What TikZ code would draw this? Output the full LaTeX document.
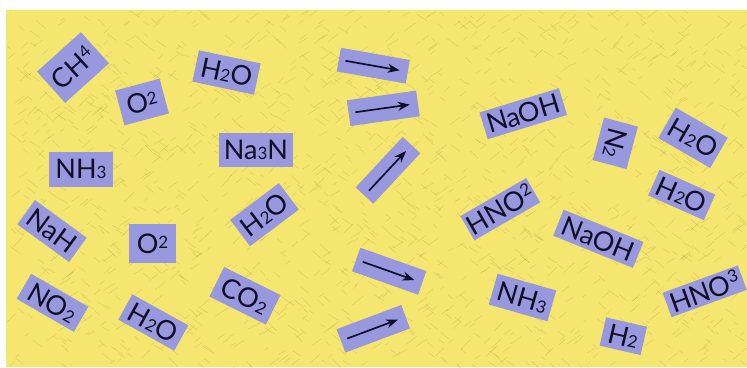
\documentclass[tikz,border=0pt]{standalone}
\usepackage{fontspec}
\setmainfont{Lato}
\usetikzlibrary{calc,arrows.meta}
\definecolor{bg}{RGB}{244,230,110}
\definecolor{texbrown}{RGB}{140,110,50}
\definecolor{lav}{RGB}{152,152,222}
\definecolor{ink}{RGB}{15,15,40}
\newcommand{\dlo}[1]{{\fontsize{17}{17}\selectfont #1}}
\newcommand{\dmid}[1]{\raisebox{5pt}{\fontsize{17}{17}\selectfont #1}}
\newcommand{\dhi}[1]{\raisebox{8.5pt}{\fontsize{17}{17}\selectfont #1}}
\begin{document}
\begin{tikzpicture}[x=1pt,y=-1pt,
  chem/.style={fill=lav, inner sep=0pt, text=ink, font=\fontsize{27}{27}\selectfont},
  arrbox/.style={fill=lav, inner sep=0pt},
  rarrow/.style={-{Stealth[length=12pt,width=9pt]}, line width=1.7pt, draw=ink},
  tex/.style={draw=texbrown, line width=0.3pt, opacity=0.3}]
\useasboundingbox (0,0) rectangle (747,367);
\fill[white] (0,0) rectangle (747,367);
\fill[bg] (6,10) rectangle (747,367);
\begin{scope}
\clip (6,10) rectangle (747,367);
\pgfmathsetseed{11}
\foreach \i in {1,...,1600}{
  \pgfmathsetmacro\xa{6+741*rnd}
  \pgfmathsetmacro\ya{10+357*rnd}
  \pgfmathsetmacro\an{ifthenelse(rnd>0.5,38,-38)+16*rnd-8}
  \pgfmathsetmacro\ln{4+10*rnd}
  \draw[tex] (\xa,\ya) -- ++(\an:\ln);
}
\end{scope}
% left group
\node[chem, minimum width=59pt, minimum height=42pt, rotate=42] (ch4) at (73,67.5) {CH\dhi{4}};
\node[chem, minimum width=46pt, minimum height=36pt, rotate=15] (o2a) at (142,102) {O\dmid{2}};
\node[chem, minimum width=63pt, minimum height=32pt, rotate=-12] (h2oa) at (226.5,72.5) {H\dlo{2}O};
\node[chem, minimum width=74pt, minimum height=34pt] (na3n) at (256,150) {Na\dlo{3}N};
\node[chem, minimum width=64pt, minimum height=35pt] (nh3a) at (81,169) {NH\dlo{3}};
\node[chem, minimum width=61pt, minimum height=33pt, rotate=37] (h2ob) at (264.5,214.7) {H\dlo{2}O};
\node[chem, minimum width=64pt, minimum height=30pt, rotate=-36] (nah) at (52,231) {NaH};
\node[chem, minimum width=47pt, minimum height=39pt] (o2b) at (152.5,243.5) {O\dmid{2}};
\node[chem, minimum width=66pt, minimum height=29pt, rotate=-30] (no2) at (52.5,302.8) {NO\dlo{2}};
\node[chem, minimum width=64pt, minimum height=29pt, rotate=-29] (h2oc) at (153.3,322.5) {H\dlo{2}O};
\node[chem, minimum width=63pt, minimum height=33pt, rotate=-26.5] (co2) at (245,295.8) {CO\dlo{2}};
% arrows
\node[arrbox, minimum width=70pt, minimum height=24pt, rotate=-10] (a1) at (373.3,65.7) {};
\node[arrbox, minimum width=70pt, minimum height=26pt, rotate=8] (a2) at (383.3,108.3) {};
\node[arrbox, minimum width=69pt, minimum height=24pt, rotate=47] (a3) at (388,170.3) {};
\node[arrbox, minimum width=70pt, minimum height=25pt, rotate=-19.5] (a4) at (389.2,271.2) {};
\node[arrbox, minimum width=69pt, minimum height=25pt, rotate=20.5] (a5) at (373.3,328.8) {};
\foreach \a in {a1,a2,a3,a4,a5}{
  \draw[rarrow] ($(\a.west)!0.1!(\a.east)$) -- ($(\a.west)!0.88!(\a.east)$);
}
% right group
\node[chem, minimum width=83pt, minimum height=28pt, rotate=17] (naoha) at (523.3,113.7) {NaOH};
\node[chem, minimum width=76pt, minimum height=28pt, rotate=30] (hno2) at (500.3,209.2) {HNO\dhi{2}};
\node[chem, minimum width=44pt, minimum height=35pt, rotate=-105] (n2) at (615.3,143.3) {N\dlo{2}};
\node[chem, minimum width=60pt, minimum height=35pt, rotate=-30] (h2od) at (693,137.8) {H\dlo{2}O};
\node[chem, minimum width=61pt, minimum height=28pt, rotate=-24] (h2oe) at (681.7,195) {H\dlo{2}O};
\node[chem, minimum width=86pt, minimum height=28pt, rotate=-22] (naohb) at (598.3,238.8) {NaOH};
\node[chem, minimum width=61pt, minimum height=32pt, rotate=-16] (nh3b) at (522.5,297.5) {NH\dlo{3}};
\node[chem, minimum width=80pt, minimum height=26pt, rotate=20] (hno3) at (704.7,291.3) {HNO\dhi{3}};
\node[chem, minimum width=42pt, minimum height=29pt, rotate=-13] (h2) at (623.3,336.2) {H\dlo{2}};
\end{tikzpicture}
\end{document}
